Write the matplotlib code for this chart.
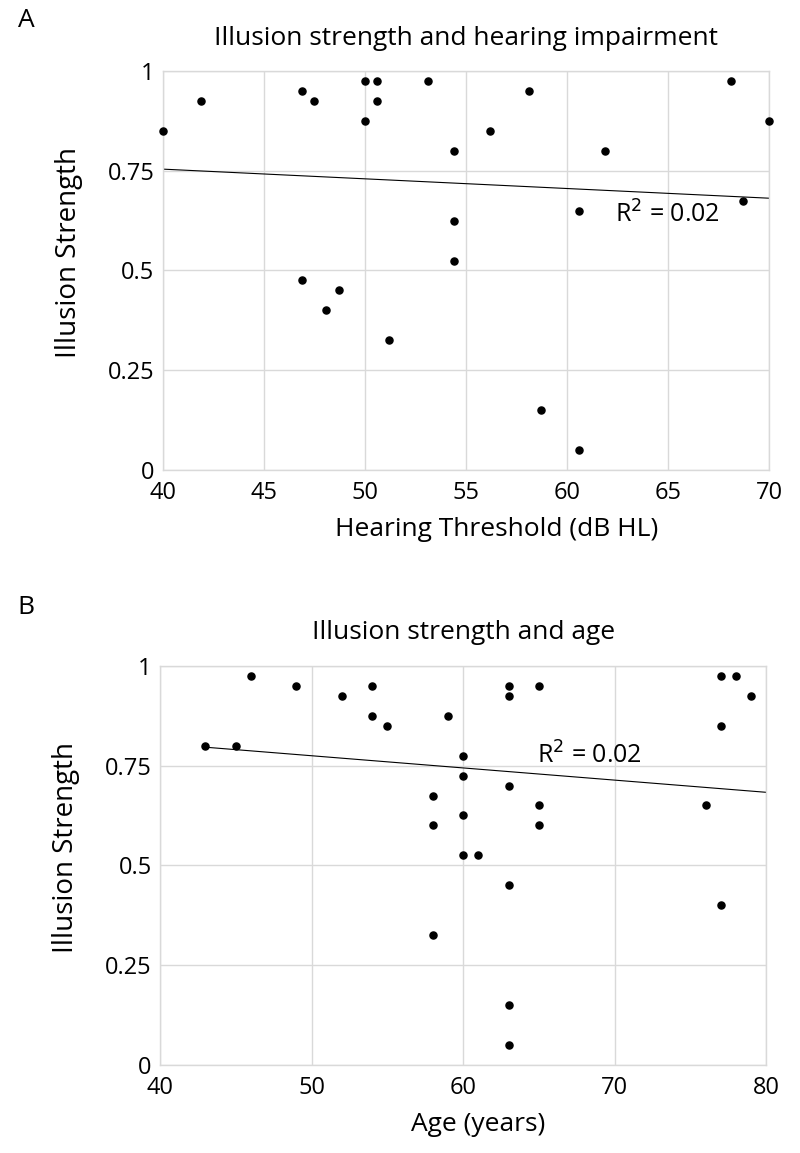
import numpy as np
import matplotlib
matplotlib.use("Agg")
import matplotlib.pyplot as plt

plt.rcParams['font.family'] = ['Open Sans', 'DejaVu Sans']

# ======== data: panel A (hearing threshold) ========
hearing_db = [40.0, 41.9, 46.9, 47.5, 50.0, 50.6, 50.6, 50.0, 53.1,
              46.9, 48.7, 48.1, 51.2, 54.4, 56.2, 58.1, 61.9, 68.1,
              70.0, 54.4, 54.4, 60.6, 68.7, 58.7, 60.6]
strength_a = [0.85, 0.925, 0.95, 0.925, 0.975, 0.975, 0.925, 0.875, 0.975,
              0.475, 0.45, 0.40, 0.325, 0.80, 0.85, 0.95, 0.80, 0.975,
              0.875, 0.625, 0.525, 0.65, 0.675, 0.15, 0.05]
# trend line as printed (slope, intercept) and its x span
trend_a = (-0.00243, 0.8513)
trend_a_span = [40, 70]

# ======== data: panel B (age) ========
age_years = [43, 45, 46, 49, 52, 54, 54, 55, 59, 58, 58, 58,
             60, 60, 60, 60, 61, 63, 63, 63, 63, 63, 63,
             65, 65, 65, 76, 77, 78, 79, 77, 77]
strength_b = [0.80, 0.80, 0.975, 0.95, 0.925, 0.95, 0.875, 0.85, 0.875, 0.675, 0.60, 0.325,
              0.775, 0.725, 0.625, 0.525, 0.525, 0.95, 0.925, 0.70, 0.45, 0.15, 0.05,
              0.95, 0.65, 0.60, 0.65, 0.975, 0.975, 0.925, 0.85, 0.40]
trend_b = (-0.003054, 0.9273)
trend_b_span = [43, 80]

r2_text = "R$^2$ = 0.02"


def panel(ax, x, y, xlim, xticks, title, xlabel, r2_pos, trend, span, xlab_x):
    ax.set_xlim(*xlim)
    ax.set_ylim(0, 1)
    ax.set_xticks(xticks)
    ax.set_yticks([0, 0.25, 0.5, 0.75, 1])
    ax.set_yticklabels(["0", "0.25", "0.5", "0.75", "1"])
    ax.grid(True, color="#d9d9d9", lw=1)
    ax.set_axisbelow(True)
    for s in ax.spines.values():
        s.set_color("#d9d9d9")
        s.set_linewidth(1)
    ax.tick_params(length=0, labelsize=17)
    ax.tick_params(axis="x", pad=8)
    ax.tick_params(axis="y", pad=6)

    xs = np.array(span, dtype=float)
    ax.plot(xs, trend[0] * xs + trend[1], color="black", lw=0.8)

    ax.scatter(x, y, s=26, color="black", zorder=3, clip_on=False)
    ax.text(r2_pos[0], r2_pos[1], r2_text, fontsize=18, va="center", ha="left")

    ax.set_title(title, fontsize=19, pad=19)
    ax.set_xlabel(xlabel, fontsize=19, va="center")
    ax.xaxis.set_label_coords(xlab_x, -0.15)
    ax.set_ylabel("Illusion Strength", fontsize=20, va="center")
    ax.yaxis.set_label_coords(-0.155, 0.546)


fig = plt.figure(figsize=(8, 11.53), dpi=100)
ax_a = fig.add_axes([0.2034, 0.5924, 0.758, 0.346])
ax_b = fig.add_axes([0.2, 0.0763, 0.758, 0.3463])

panel(ax_a, hearing_db, strength_a, (40, 70), [40, 45, 50, 55, 60, 65, 70],
      "Illusion strength and hearing impairment", "Hearing Threshold (dB HL)",
      (62.4, 0.64), trend_a, trend_a_span, 0.55)
panel(ax_b, age_years, strength_b, (40, 80), [40, 50, 60, 70, 80],
      "Illusion strength and age", "Age (years)",
      (64.9, 0.775), trend_b, trend_b_span, 0.524)

fig.text(0.022, 0.982, "A", fontsize=19, va="center")
fig.text(0.022, 0.473, "B", fontsize=19, va="center")

fig.savefig("out.png", dpi=100)
